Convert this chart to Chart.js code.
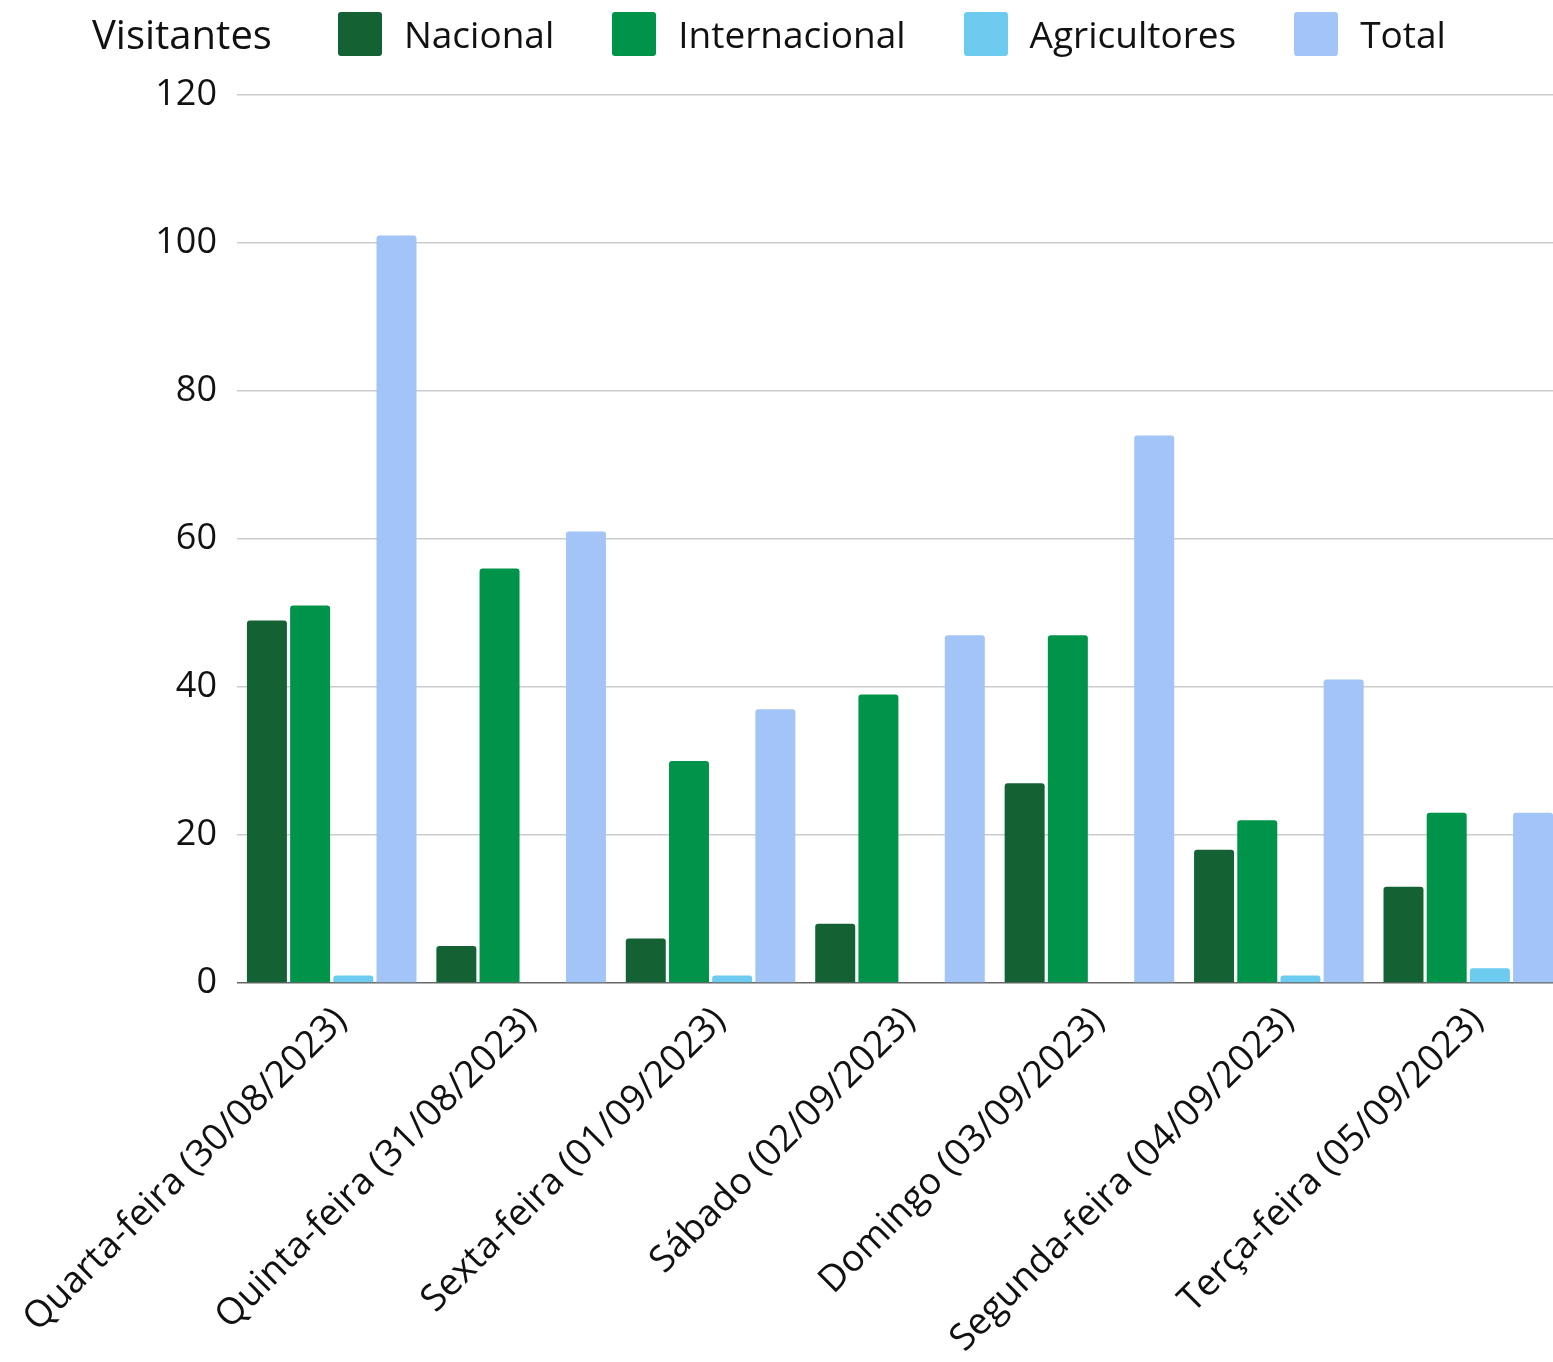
<!DOCTYPE html>
<html>
<head>
<meta charset="utf-8">
<script src="https://cdn.jsdelivr.net/npm/chart.js@4/dist/chart.umd.min.js"></script>
<style>
  html, body { margin: 0; padding: 0; background: #fff; overflow: hidden; width: 1553px; height: 1362px; }
  #wrap { position: relative; width: 1570px; height: 1362px; }
  #legend { position: absolute; left: 92px; top: 6px; display: flex; align-items: center; font-family: "Open Sans", sans-serif; color: #111; }
  #legend .title { font-size: 40px; margin-right: 66px; }
  #legend .item { display: flex; align-items: center; font-size: 37px; margin-right: 58px; }
  #legend .box { width: 44px; height: 44px; border-radius: 3px; margin-right: 22px; }
</style>
</head>
<body>
<div id="wrap">
  <canvas id="myChart" width="1570" height="1362"></canvas>
  <div id="legend"></div>
</div>
<script>
// Kategorier (dias)
const days = [
  'Quarta-feira (30/08/2023)', 'Quinta-feira (31/08/2023)',
  'Sexta-feira (01/09/2023)', 'Sábado (02/09/2023)',
  'Domingo (03/09/2023)', 'Segunda-feira (04/09/2023)',
  'Terça-feira (05/09/2023)'
];

// Séries
const nacional = [49, 5, 6, 8, 27, 18, 13];
const internacional = [51, 56, 30, 39, 47, 22, 23];
const agricultores = [1, 0, 1, 0, 0, 1, 2];
const total = [101, 61, 37, 47, 74, 41, 23];

const seriesNames = ['Nacional', 'Internacional', 'Agricultores', 'Total'];
const seriesColors = ['#146233', '#00944b', '#6dcbf0', '#a2c4f7'];
const legendTitle = 'Visitantes';

const yTicks = [0, 20, 40, 60, 80, 100, 120];

const font = "'Open Sans', sans-serif";

// Legenda em HTML (título ao lado dos itens)
const legend = document.getElementById('legend');
legend.innerHTML = `<span class="title">${legendTitle}</span>` +
  seriesNames.map((n, i) =>
    `<span class="item"><span class="box" style="background:${seriesColors[i]}"></span>${n}</span>`
  ).join('');

const values = [nacional, internacional, agricultores, total];

const data = {
  labels: days,
  datasets: values.map((v, i) => ({
    label: seriesNames[i],
    data: v,
    backgroundColor: seriesColors[i],
    borderRadius: 3,
    borderSkipped: 'start',
    categoryPercentage: 0.912,
    barPercentage: 0.926
  }))
};

const config = {
  type: 'bar',
  data: data,
  options: {
    responsive: false,
    animation: false,
    layout: { padding: { top: 95, right: 7, left: 0, bottom: 0 } },
    plugins: {
      legend: { display: false },
      tooltip: { enabled: false }
    },
    scales: {
      y: {
        min: 0,
        max: 120,
        afterBuildTicks: (s) => { s.ticks = yTicks.map(v => ({ value: v })); },
        afterFit: (s) => { s.width = 237; },
        border: { display: false },
        grid: {
          drawTicks: false,
          lineWidth: 1.5,
          color: (c) => c.tick && c.tick.value === 0 ? '#666666' : '#cccccc'
        },
        ticks: {
          padding: 20,
          color: '#111111',
          font: { family: font, size: 36 }
        }
      },
      x: {
        // rótulos inclinados podem sair da área; não reservar espaço extra
        afterFit: (s) => {
          s.height = 379;
          s.paddingLeft = 0;
          s.paddingRight = 0;
        },
        border: { display: false },
        grid: { display: false, drawTicks: false },
        ticks: {
          minRotation: 45,
          maxRotation: 45,
          autoSkip: false,
          padding: 16,
          labelOffset: 9,
          color: '#111111',
          font: { family: font, size: 37 }
        }
      }
    }
  }
};

const myChart = new Chart(document.getElementById('myChart'), config);
</script>
</body>
</html>
